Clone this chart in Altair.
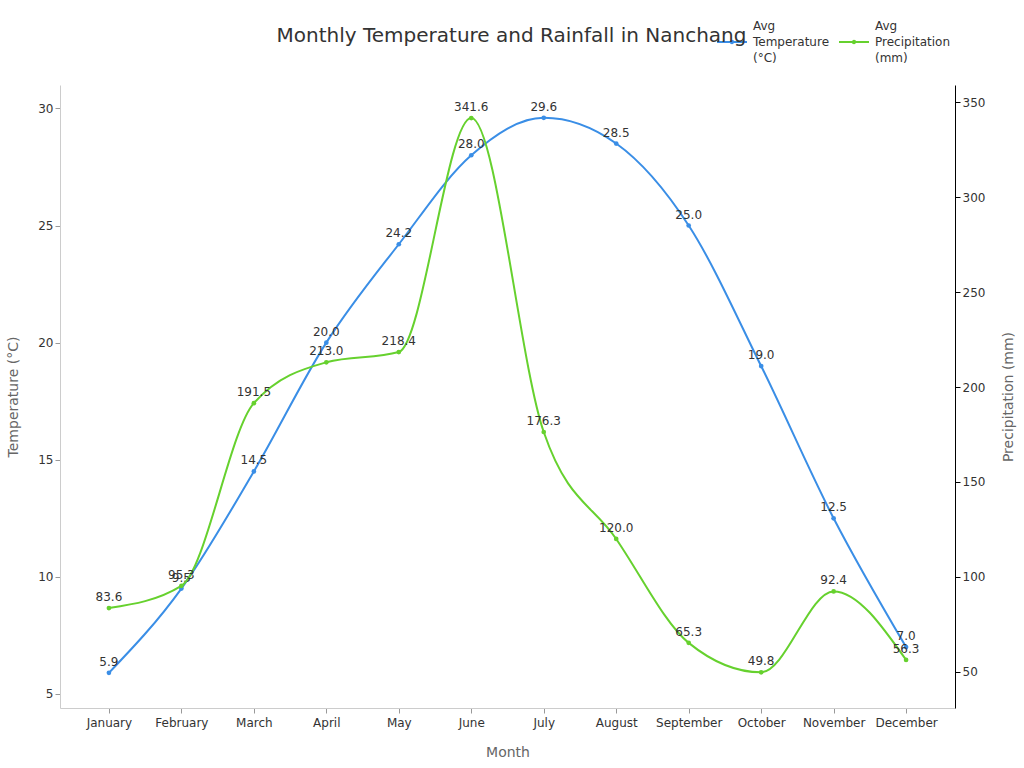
import altair as alt
import pandas as pd

# Monthly climate normals for Nanchang
months = ["January", "February", "March", "April", "May", "June",
          "July", "August", "September", "October", "November", "December"]
temperature = [5.9, 9.5, 14.5, 20.0, 24.2, 28.0, 29.6, 28.5, 25.0, 19.0, 12.5, 7.0]
precipitation = [83.6, 95.3, 191.5, 213.0, 218.4, 341.6, 176.3, 120.0, 65.3, 49.8, 92.4, 56.3]

series_names = ["Avg Temperature (°C)", "Avg Precipitation (mm)"]
series_colors = ["#3a8ee6", "#66d12e"]

temp_df = pd.DataFrame({"Month": months, "Value": temperature, "Series": series_names[0]})
rain_df = pd.DataFrame({"Month": months, "Value": precipitation, "Series": series_names[1]})

x_enc = alt.X(
    "Month:N",
    sort=months,
    scale=alt.Scale(type="point", padding=0.675),
    axis=alt.Axis(
        title="Month", labelAngle=0, domainColor="#cccccc", tickColor="#999999",
        tickSize=5, labelPadding=4, titlePadding=17, labelFontSize=12,
        titleFontSize=14, titleColor="#666666", titleFontWeight="normal",
        labelColor="#333333", grid=False,
    ),
)

# legend symbol: a short line with a small dot in its middle, set beside
# the middle line of the three-line label
line_dot_symbol = ("M-1,1.07H1M-0.08,1.07A0.08,0.08 0 1,0 0.08,1.07"
                   "A0.08,0.08 0 1,0 -0.08,1.07")

color_enc = alt.Color(
    "Series:N",
    scale=alt.Scale(domain=series_names, range=series_colors),
    legend=alt.Legend(
        title=None, orient="none", direction="horizontal",
        legendX=656, legendY=-75,
        labelExpr="split(datum.label, ' ')",
        labelFontSize=12, labelColor="#333333", labelLimit=200,
        labelBaseline="middle",
        symbolType=line_dot_symbol, symbolSize=900, symbolStrokeWidth=2,
        columnPadding=5, labelOffset=5,
    ),
)

point_def = alt.OverlayMarkDef(size=22, filled=True)

temp_y = alt.Y(
    "Value:Q",
    scale=alt.Scale(domain=[4.4, 31.0], nice=False, zero=False),
    axis=alt.Axis(
        title="Temperature (°C)", orient="left", values=[5, 10, 15, 20, 25, 30],
        domainColor="#cccccc", tickColor="#999999", tickSize=5, grid=False,
        labelFontSize=12, labelColor="#333333", titleFontSize=14,
        titleColor="#666666", titleFontWeight="normal", titlePadding=17,
    ),
)

rain_y = alt.Y(
    "Value:Q",
    scale=alt.Scale(domain=[31, 359], nice=False, zero=False),
    axis=alt.Axis(
        title="Precipitation (mm)", orient="right", titleAngle=270,
        values=[50, 100, 150, 200, 250, 300, 350],
        domainColor="#000000", tickColor="#000000", tickSize=5, grid=False,
        labelFontSize=12, labelColor="#333333", titleFontSize=14,
        titleColor="#666666", titleFontWeight="normal", titlePadding=31,
    ),
)

temp_base = alt.Chart(temp_df).encode(x=x_enc, y=temp_y)
temp_line = temp_base.mark_line(interpolate="monotone", strokeWidth=2, point=point_def).encode(color=color_enc)
temp_text = temp_base.mark_text(dy=-11, fontSize=12, color="#333333").encode(text=alt.Text("Value:Q", format=".1f"))

rain_base = alt.Chart(rain_df).encode(x=x_enc, y=rain_y)
rain_line = rain_base.mark_line(interpolate="monotone", strokeWidth=2, point=point_def).encode(color=color_enc)
rain_text = rain_base.mark_text(dy=-11, fontSize=12, color="#333333").encode(text=alt.Text("Value:Q", format=".1f"))

chart = (
    alt.layer(alt.layer(temp_line, temp_text), alt.layer(rain_line, rain_text))
    .resolve_scale(y="independent")
    .properties(
        width=895,
        height=623,
        title=alt.Title(
            "Monthly Temperature and Rainfall in Nanchang",
            fontSize=20, fontWeight="normal", color="#333333",
            anchor="middle", dx=4, offset=0, dy=36,
        ),
        autosize=alt.AutoSizeParams(type="none"),
        padding={"left": 60, "top": 85, "right": 69, "bottom": 60},
    )
    .configure(font="DejaVu Sans", style={"guide-label": {"lineHeight": 16}})
    .configure_view(strokeWidth=0)
)

chart.save("out.html", embed_options={"renderer": "svg", "actions": False})
